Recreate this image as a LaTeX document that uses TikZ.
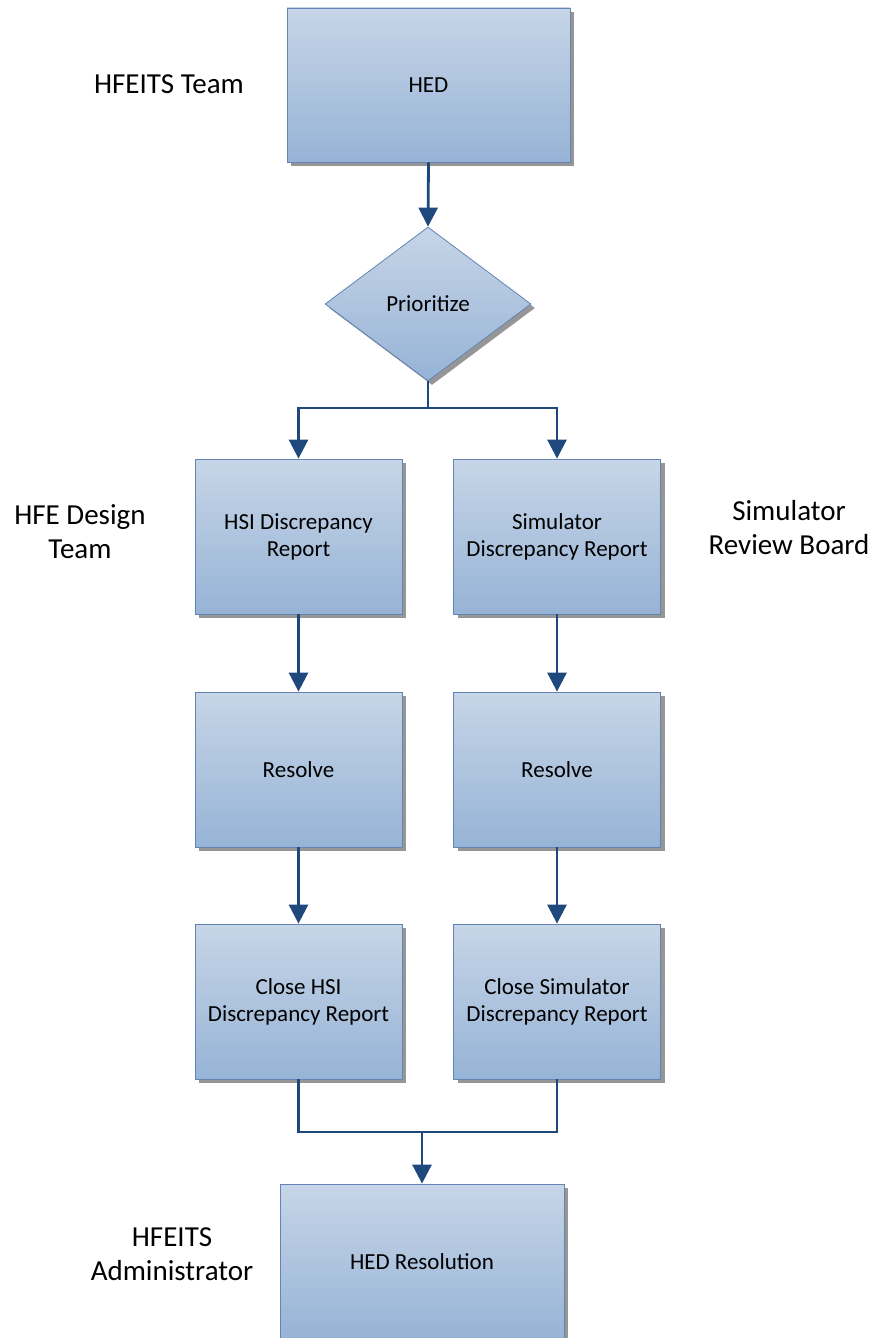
\documentclass[tikz,border=0pt]{standalone}
\usepackage{fontspec}
\setmainfont{Carlito}
\usetikzlibrary{shapes.geometric,shadows,arrows.meta}
\definecolor{boxtop}{RGB}{199,213,231}
\definecolor{boxbot}{RGB}{150,179,214}
\definecolor{boxline}{RGB}{98,133,178}
\definecolor{connc}{RGB}{31,73,125}
\definecolor{shadowc}{RGB}{150,150,150}
\begin{document}
\begin{tikzpicture}[x=1pt,y=-1pt,
  shaded/.style={draw=boxline, line width=0.8pt, top color=boxtop, bottom color=boxbot,
    drop shadow={shadow xshift=4pt, shadow yshift=-4pt, fill=shadowc, opacity=1},
    align=center, font=\fontsize{23}{27}\selectfont, inner sep=0pt},
  box/.style={shaded, rectangle, minimum width=207pt, minimum height=155pt},
  dec/.style={shaded, diamond, minimum width=206pt, minimum height=154pt, shape aspect=1.34},
  lab/.style={align=center, font=\fontsize{29}{34}\selectfont, inner sep=0pt},
  conn/.style={draw=connc, line width=2.8pt, line join=miter},
  arr/.style={conn, -{Triangle[width=19pt,length=19pt]}}
]
\useasboundingbox (0,0) rectangle (873,1338);
\clip (0,0) rectangle (873,1338);

\node[box, minimum width=283pt, minimum height=154pt] (hed) at (428.5,85) {HED};
\node[dec] (pri) at (428,304) {Prioritize};

\node[box] (hsi) at (298.5,536.5) {HSI Discrepancy\\Report};
\node[box] (sim) at (557,536.5) {Simulator\\Discrepancy Report};
\node[box] (res1) at (298.5,769.5) {Resolve};
\node[box] (res2) at (557,769.5) {Resolve};
\node[box] (chsi) at (298.5,1001.5) {Close HSI\\Discrepancy Report};
\node[box] (csim) at (557,1001.5) {Close Simulator\\Discrepancy Report};
\node[box, minimum width=284pt, minimum height=156pt] (hres) at (422,1262) {HED Resolution};

\node[lab] (l1) at (169,84) {HFEITS Team};
\node[lab] (l2) at (80,532) {HFE Design\\Team};
\node[lab] (l3) at (789,528) {Simulator\\Review Board};
\node[lab] (l4) at (172,1254) {HFEITS\\Administrator};

\coordinate (split) at (428,408);
\coordinate (merge) at (422,1132);

\draw[arr] (hed.south) -- (pri.north);
\draw[conn] (pri.south) -- (split);
\draw[arr] (split) -| (hsi.north);
\draw[arr] (split) -| (sim.north);
\draw[arr] (hsi.south) -- (res1.north);
\draw[arr] (sim.south) -- (res2.north);
\draw[arr] (res1.south) -- (chsi.north);
\draw[arr] (res2.south) -- (csim.north);
\draw[conn] (chsi.south) |- (merge) -| (csim.south);
\draw[arr] (merge) -- (hres.north);
\end{tikzpicture}
\end{document}
